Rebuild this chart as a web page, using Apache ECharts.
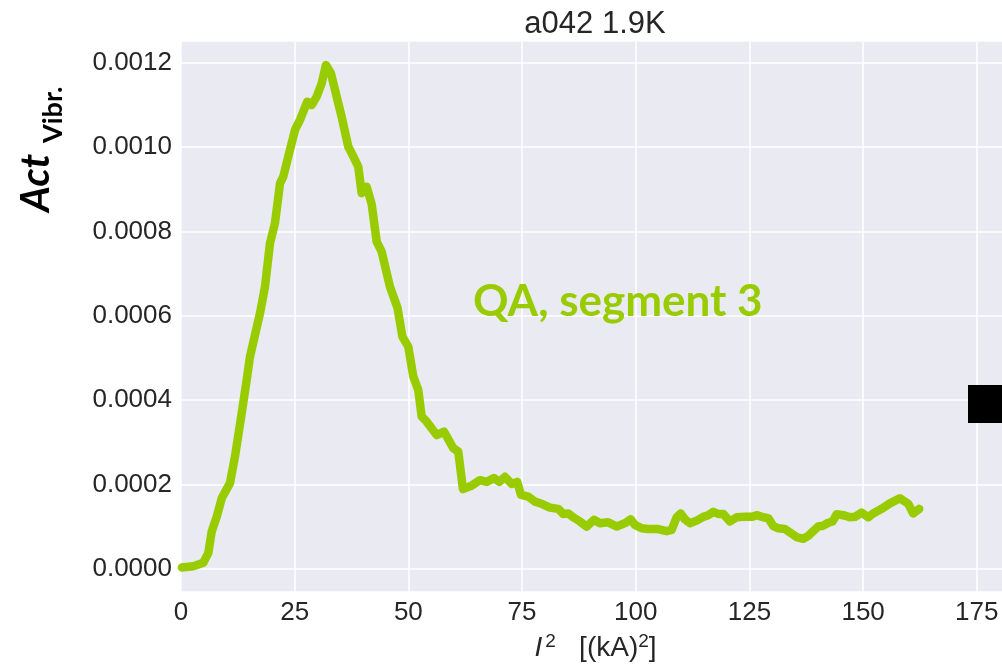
<!DOCTYPE html>
<html>
<head>
<meta charset="utf-8">
<script src="https://cdn.jsdelivr.net/npm/echarts@6/dist/echarts.min.js"></script>
<style>
  html, body { margin: 0; padding: 0; background: #ffffff; }
  #chart { width: 1002px; height: 665px; }
</style>
</head>
<body>
<div id="chart"></div>
<script>
// I^2 in (kA)^2
const currentSq = [0.2, 2.7, 4.9, 6.0, 6.75, 7.85, 8.95, 10.77, 11.87, 13.35,
  14.45, 15.17, 17.37, 18.47, 19.57, 20.67, 21.77, 22.49, 23.59, 25.07,
  26.17, 27.77, 28.74, 29.84, 30.94, 31.88, 32.98, 34.23, 35.33, 36.79,
  37.89, 38.98, 39.73, 40.83, 41.93, 43.03, 44.13, 45.95, 47.6, 48.7,
  49.98, 51.08, 52.18, 52.92, 54.02, 56.22, 57.83, 59.87, 60.97, 62.0,
  63.72, 65.74, 67.22, 68.82, 69.99, 71.24, 72.71, 73.94, 74.76, 76.37,
  77.84, 79.31, 81.13, 82.96, 84.06, 85.16, 86.26, 87.73, 89.2, 90.81,
  92.13, 93.95, 95.8, 97.63, 98.88, 99.82, 101.3, 102.75, 104.95, 106.79,
  107.89, 108.99, 109.87, 110.82, 111.92, 113.39, 114.84, 115.94, 117.04, 118.14,
  119.24, 120.71, 122.19, 124.01, 125.48, 126.58, 128.03, 129.13, 130.23, 131.33,
  132.81, 133.91, 135.38, 136.83, 137.93, 139.03, 140.13, 141.23, 142.33, 143.29,
  144.17, 145.62, 147.1, 148.2, 149.67, 151.12, 152.22, 154.07, 155.89, 158.09,
  159.92, 161.02, 162.34];

// vibration activity, in units of 1e-6
const actVibrMicro = [3, 6, 14, 37, 88, 123, 167, 203, 266, 369,
  448, 503, 606, 669, 772, 820, 914, 930, 978, 1041,
  1065, 1108, 1100, 1120, 1152, 1195, 1175, 1120, 1072, 1001,
  978, 954, 891, 906, 865, 776, 752, 669, 619, 550,
  527, 456, 424, 361, 349, 317, 325, 286, 278, 189,
  196, 210, 206, 215, 206, 218, 201, 206, 175, 171,
  159, 154, 145, 142, 130, 131, 122, 112, 100, 116,
  108, 110, 100, 108, 117, 104, 96, 94, 94, 89,
  92, 122, 131, 117, 108, 114, 123, 127, 135, 130,
  130, 112, 122, 123, 123, 127, 122, 120, 101, 96,
  94, 86, 75, 71, 78, 89, 100, 102, 109, 112,
  129, 127, 122, 123, 133, 122, 131, 142, 155, 167,
  154, 131, 142];

const xTicks = [0, 25, 50, 75, 100, 125, 150, 175];
const titleText = 'a042 1.9K';
const seriesLabel = 'QA, segment 3';

const GREEN = '#99CC00';
const INK = '#262626';
const SANS = 'Liberation Sans, Arial, sans-serif';

const chart = echarts.init(document.getElementById('chart'), null, { renderer: 'canvas' });

const points = currentSq.map((x, i) => [x, actVibrMicro[i] * 1e-6]);

chart.setOption({
  animation: false,
  backgroundColor: '#ffffff',
  grid: {
    left: 181, top: 41, width: 829, height: 551,
    show: true, backgroundColor: '#EAEAF2', borderWidth: 0,
    containLabel: false,
    outerBoundsMode: 'none'
  },
  xAxis: {
    type: 'value',
    min: 0, max: 182.3, interval: 25,
    axisLine: { show: false },
    axisTick: { show: false },
    splitLine: { show: true, lineStyle: { color: '#ffffff', width: 1.5 } },
    axisLabel: {
      show: true, margin: 8, fontSize: 26, color: INK,
      fontFamily: SANS,
      showMaxLabel: false,
      formatter: v => (xTicks.indexOf(v) >= 0 ? String(v) : '')
    },
    name: '{i|I}{s1|2}{t|   [(kA)}{s2|2}{t|]}',
    nameLocation: 'middle',
    nameGap: 40,
    nameTextStyle: {
      rich: {
        i: { fontSize: 28, fontStyle: 'italic', color: INK, fontFamily: SANS, lineHeight: 32 },
        s1: { fontSize: 19, color: INK, fontFamily: SANS, verticalAlign: 'top', lineHeight: 6, padding: [0, 0, 0, 3] },
        s2: { fontSize: 19, color: INK, fontFamily: SANS, verticalAlign: 'top', lineHeight: 6 },
        t: { fontSize: 28, color: INK, fontFamily: SANS, lineHeight: 32 }
      }
    }
  },
  yAxis: {
    type: 'value',
    min: -0.0000553, max: 0.001252, splitNumber: 6,
    axisLine: { show: false },
    axisTick: { show: false },
    splitLine: { show: true, lineStyle: { color: '#ffffff', width: 1.5 } },
    axisLabel: {
      show: true, margin: 9, fontSize: 26, color: INK,
      fontFamily: SANS,
      showMinLabel: false, showMaxLabel: false,
      formatter: v => v.toFixed(4)
    }
  },
  series: [{
    type: 'line',
    data: points,
    showSymbol: false,
    smooth: false,
    lineStyle: { color: GREEN, width: 8.5, cap: 'round', join: 'round' }
  }],
  graphic: [
    {
      type: 'text', x: 595, y: 24, z: 100,
      style: { text: titleText, font: '31px "Liberation Sans", Arial, sans-serif', fill: INK, align: 'center', verticalAlign: 'middle' }
    },
    {
      type: 'text', x: 56, y: 212, rotation: Math.PI / 2, z: 100,
      style: { text: 'Act', font: 'italic bold 40px Lato, "Open Sans", sans-serif', fill: '#000000', align: 'left', verticalAlign: 'bottom' }
    },
    {
      type: 'text', x: 67, y: 143, rotation: Math.PI / 2, z: 100,
      style: { text: 'Vibr.', font: 'bold 27px Lato, "Open Sans", sans-serif', fill: '#000000', align: 'left', verticalAlign: 'bottom' }
    },
    {
      type: 'text', x: 473, y: 302, z: 100,
      style: { text: seriesLabel, font: 'bold 44px Lato, "Open Sans", sans-serif', fill: GREEN, align: 'left', verticalAlign: 'middle' }
    },
    {
      type: 'rect', z: 100, shape: { x: 968, y: 385, width: 50, height: 38 },
      style: { fill: '#000000' }
    }
  ]
});
</script>
</body>
</html>
